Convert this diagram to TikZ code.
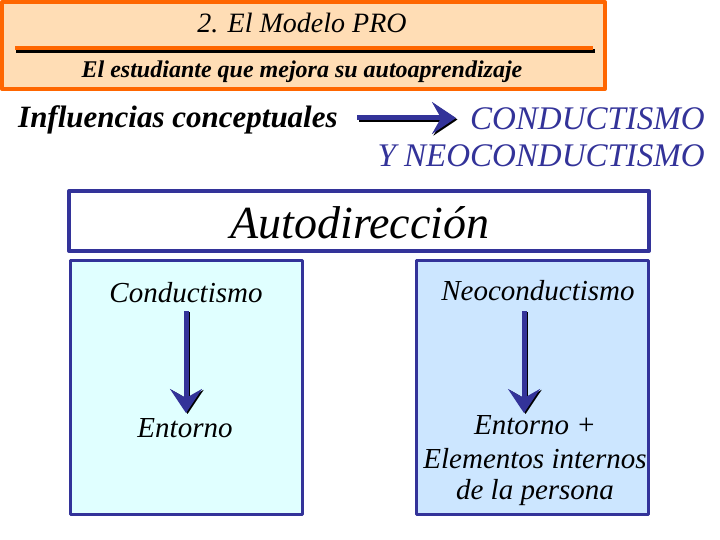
\documentclass[tikz,border=0pt]{standalone}
\usepackage{fontspec}
\setmainfont{Liberation Serif}
\usetikzlibrary{arrows.meta}
\definecolor{naranja}{HTML}{FF6600}
\definecolor{melocoton}{HTML}{FFDDB5}
\definecolor{marino}{HTML}{333399}
\definecolor{celeste}{HTML}{E0FFFF}
\definecolor{azulclaro}{HTML}{CCE6FF}
\tikzset{
  caja/.style={draw=marino, line width=3pt},
  txt/.style={font=\itshape\fontsize{29}{34}\selectfont, inner sep=0pt, anchor=base},
  flecha/.style={marino, line width=5pt, -{Stealth[length=24pt, width=32pt, inset=9pt]}},
  sombra/.style={black, line width=5pt, -{Stealth[length=24pt, width=32pt, inset=9pt]}}
}
\begin{document}
\begin{tikzpicture}[x=1pt, y=-1pt, line join=round]
  \useasboundingbox (0,0) rectangle (720,540);
  % cabecera
  \draw[draw=naranja, fill=melocoton, line width=4pt] (2,2) rectangle (605,89);
  \draw[black, line width=3.5pt] (16,51) -- (595,51);
  \draw[naranja, line width=3.5pt] (15,48) -- (593,48);
  \node[txt, font=\itshape\fontsize{28}{30}\selectfont] (titulo) at (302,33) {2. El Modelo PRO};
  \node[txt, font=\bfseries\itshape\fontsize{24}{26}\selectfont] (subtitulo) at (302,78) {El estudiante que mejora su autoaprendizaje};
  % influencias
  \node[txt, font=\bfseries\itshape\fontsize{31}{33}\selectfont, anchor=base west] (influ) at (18,128) {Influencias conceptuales};
  \node[txt, marino, font=\itshape\fontsize{33}{35}\selectfont, anchor=base east] (cond) at (705,130) {CONDUCTISMO};
  \node[txt, marino, font=\itshape\fontsize{33}{35}\selectfont, anchor=base east] (neocond) at (705,167) {Y NEOCONDUCTISMO};
  \coordinate (a1) at (357,118);
  \coordinate (a2) at (456,118);
  \draw[sombra] ([shift={(1.5,1.5)}]a1) -- ([shift={(1.5,1.5)}]a2);
  \draw[flecha] (a1) -- (a2);
  % autodireccion
  \node[caja, fill=white, line width=4pt, minimum width=580pt, minimum height=60pt, inner sep=0pt] (auto) at (359,221) {};
  \node[txt, font=\itshape\fontsize{46}{48}\selectfont] (autot) at (360,238) {Autodirección};
  % cajas
  \draw[caja, fill=celeste] (70,260) rectangle (302,514);
  \draw[caja, fill=azulclaro] (416,260) rectangle (648,514);
  \node[txt] (c1) at (186,302) {Conductismo};
  \node[txt] (e1) at (185,437) {Entorno};
  \node[txt] (c2) at (538,300) {Neoconductismo};
  \node[txt] (e2) at (535,434) {Entorno +};
  \node[txt] (e3) at (535,468) {Elementos internos};
  \node[txt] (e4) at (535,499) {de la persona};
  \foreach \n/\x in {1/186,2/524}{
    \coordinate (p\n) at (\x,311);
    \coordinate (q\n) at (\x,413);
    \draw[sombra] ([shift={(1.5,1)}]p\n) -- ([shift={(1.5,1)}]q\n);
    \draw[flecha] (p\n) -- (q\n);
  }
\end{tikzpicture}
\end{document}
